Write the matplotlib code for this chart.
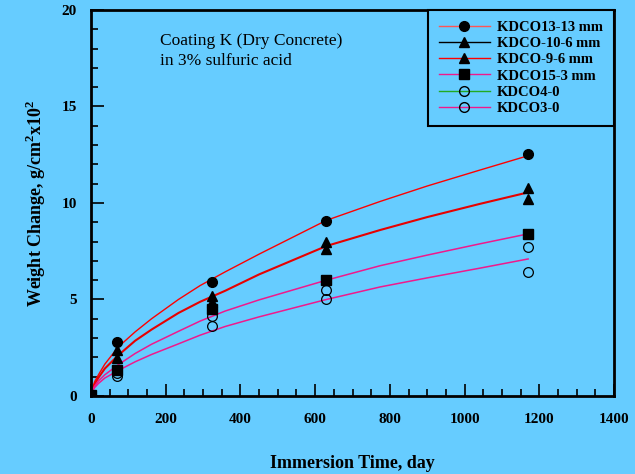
import matplotlib.pyplot as plt
from matplotlib.lines import Line2D
from matplotlib.ticker import MultipleLocator

plt.rcParams['font.family'] = ['Liberation Serif', 'DejaVu Serif']
plt.rcParams['mathtext.fontset'] = 'custom'
plt.rcParams['mathtext.rm'] = 'Liberation Serif:bold'
plt.rcParams['mathtext.bf'] = 'Liberation Serif:bold'

# measured weight change (g/cm^2 x 10^2) vs immersion time (days)
days = [0, 70, 325, 630, 1170]
kdco13_13 = [0.05, 2.80, 5.90, 9.08, 12.53]
kdco10_6 = [0.05, 2.37, 5.20, 7.98, 10.78]
kdco9_6 = [0.05, 1.95, 4.85, 7.60, 10.20]
kdco15_3 = [0.05, 1.35, 4.52, 6.02, 8.41]
kdco4_0 = [0.05, 1.20, 4.12, 5.47, 7.70]
kdco3_0 = [0.05, 1.04, 3.62, 5.05, 6.42]

# fitted trend curves, read at these times
fit_days = [0, 10, 20, 37, 73, 118, 162, 234, 292, 359, 450, 630, 774, 900, 1040, 1170]
fit_13 = [0.15, 0.75, 1.10, 1.65, 2.54, 3.32, 4.00, 5.00, 5.72, 6.43, 7.35, 9.10, 10.08, 10.88, 11.70, 12.45]
fit_9 = [0.15, 0.62, 0.95, 1.42, 2.11, 2.86, 3.44, 4.30, 4.88, 5.45, 6.30, 7.77, 8.60, 9.27, 9.95, 10.55]
fit_15 = [0.15, 0.52, 0.78, 1.10, 1.62, 2.20, 2.68, 3.35, 3.88, 4.40, 4.98, 6.00, 6.75, 7.30, 7.88, 8.40]
fit_3 = [0.15, 0.44, 0.65, 0.93, 1.32, 1.77, 2.15, 2.70, 3.15, 3.60, 4.10, 5.00, 5.65, 6.12, 6.62, 7.10]

bg = '#66CCFF'
red = '#FF0000'
pink = '#F0198C'

fig = plt.figure(figsize=(6.35, 4.74), dpi=100, facecolor=bg)
ax = fig.add_axes([0.1433, 0.1646, 0.8237, 0.8143], facecolor=bg)

ax.plot(fit_days, fit_13, color=red, lw=1.0)
ax.plot(fit_days, fit_9, color='#E80000', lw=1.5)
ax.plot(fit_days, fit_15, color=pink, lw=1.1)
ax.plot(fit_days, fit_3, color=pink, lw=1.1)

ms = 7
ax.plot(days, kdco13_13, 'o', color='black', ms=ms, zorder=5)
ax.plot(days, kdco10_6, '^', color='black', ms=ms, zorder=5)
ax.plot(days, kdco9_6, '^', color='black', ms=ms, zorder=5)
ax.plot(days, kdco4_0, 'o', mfc='none', mec='black', mew=0.9, ms=ms, zorder=5)
ax.plot(days, kdco3_0, 'o', mfc='none', mec='black', mew=0.9, ms=ms, zorder=5)
ax.plot(days, kdco15_3, 's', color='black', ms=ms, zorder=6)

ax.set_xlim(0, 1400)
ax.set_ylim(0, 20)
ax.xaxis.set_major_locator(MultipleLocator(200))
ax.xaxis.set_minor_locator(MultipleLocator(50))
ax.yaxis.set_major_locator(MultipleLocator(5))
ax.yaxis.set_minor_locator(MultipleLocator(1))
ax.tick_params(which='both', direction='in', top=False, right=False, width=1.2)
ax.tick_params(which='major', length=9)
ax.tick_params(which='minor', length=5)
ax.tick_params(axis='x', which='major', pad=12, labelsize=11)
ax.tick_params(axis='y', which='major', pad=10, labelsize=11)
for lab in ax.get_xticklabels() + ax.get_yticklabels():
    lab.set_fontweight('bold')
for sp in ax.spines.values():
    sp.set_linewidth(2.0)

ax.set_xlabel('Immersion Time, day', fontsize=13, fontweight='bold', labelpad=21)
ax.set_ylabel(r'Weight Change, g/cm$^{\mathbf{2}}$x10$^{\mathbf{2}}$', fontsize=13,
              fontweight='bold', labelpad=10)

ax.text(0.132, 0.94, 'Coating K (Dry Concrete)\nin 3% sulfuric acid', transform=ax.transAxes,
        fontsize=12.5, va='top', ha='left', linespacing=1.3)

handles = [
    Line2D([], [], color='#FF5555', lw=1, marker='o', mfc='black', mec='black', ms=7),
    Line2D([], [], color='black', lw=1, marker='^', mfc='black', mec='black', ms=7),
    Line2D([], [], color=red, lw=1, marker='^', mfc='black', mec='black', ms=7),
    Line2D([], [], color=pink, lw=1, marker='s', mfc='black', mec='black', ms=7),
    Line2D([], [], color='#22AA22', lw=1, marker='o', mfc='none', mec='black', ms=7),
    Line2D([], [], color=pink, lw=1, marker='o', mfc='none', mec='black', ms=7),
]
labels = ['KDCO13-13 mm', 'KDCO-10-6 mm', 'KDCO-9-6 mm', 'KDCO15-3 mm', 'KDCO4-0', 'KDCO3-0']
leg = ax.legend(handles, labels, loc='upper right', bbox_to_anchor=(1, 1), borderaxespad=0,
                prop={'family': 'Liberation Serif', 'weight': 'bold', 'size': 10.5},
                handlelength=3.5, handletextpad=0.5, labelspacing=0.2, borderpad=0.75,
                fancybox=False, framealpha=1, facecolor=bg, edgecolor='black')
leg.get_frame().set_linewidth(1.5)

fig.savefig('out.png', dpi=100, facecolor=bg)
